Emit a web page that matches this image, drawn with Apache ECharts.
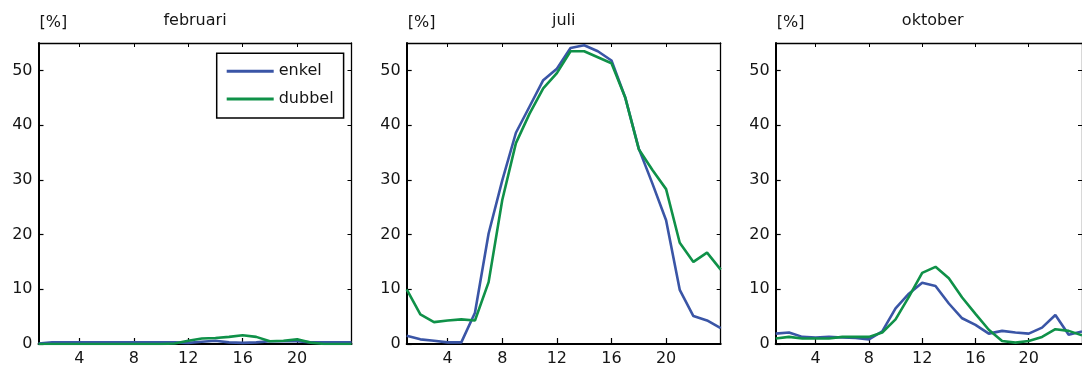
<!DOCTYPE html>
<html>
<head>
<meta charset="utf-8">
<script src="https://cdn.jsdelivr.net/npm/echarts@6/dist/echarts.min.js"></script>
<style>
  html, body { margin: 0; padding: 0; background: #fff; }
  #chart { width: 1082px; height: 367px; }
</style>
</head>
<body>
<div id="chart"></div>
<script>
// Hour of day (x) and share in percent (y) for three months
const hours = [1, 2, 3, 4, 5, 6, 7, 8, 9, 10, 11, 12, 13, 14, 15, 16, 17, 18, 19, 20, 21, 22, 23, 24];
const hourTicks = [4, 8, 12, 16, 20];
const percentTicks = [0, 10, 20, 30, 40, 50];
const months = ['februari', 'juli', 'oktober'];
const seriesNames = ['enkel', 'dubbel'];

const enkelFebruari = [0.1, 0.3, 0.3, 0.3, 0.3, 0.3, 0.3, 0.3, 0.3, 0.3, 0.3, 0.2, 0.4, 0.6, 0.3, 0.2, 0.3, 0.5, 0.5, 0.5, 0.3, 0.3, 0.3, 0.3];
const dubbelFebruari = [0, 0, 0, 0, 0, 0, 0, 0, 0, 0, 0.1, 0.6, 1.0, 1.1, 1.3, 1.6, 1.3, 0.5, 0.6, 0.85, 0.25, 0, 0, 0];

const enkelJuli = [1.5, 0.85, 0.6, 0.3, 0.3, 5.7, 20.2, 29.9, 38.6, 43.4, 48.2, 50.3, 54.1, 54.6, 53.5, 51.8, 45.1, 35.7, 29.3, 22.6, 9.9, 5.1, 4.3, 2.9];
const dubbelJuli = [10.0, 5.4, 4.0, 4.3, 4.5, 4.3, 11.3, 26.3, 36.7, 42.1, 46.7, 49.5, 53.5, 53.5, 52.4, 51.3, 45.1, 35.6, 31.8, 28.3, 18.5, 15.0, 16.7, 13.6];

const enkelOktober = [1.9, 2.1, 1.3, 1.2, 1.3, 1.2, 1.1, 0.85, 2.3, 6.5, 9.2, 11.2, 10.6, 7.4, 4.7, 3.5, 1.9, 2.4, 2.1, 1.9, 3.0, 5.3, 1.7, 2.3];
const dubbelOktober = [1.0, 1.3, 1.0, 1.0, 1.0, 1.3, 1.3, 1.3, 2.1, 4.5, 8.6, 13.0, 14.1, 12.0, 8.5, 5.5, 2.6, 0.55, 0.25, 0.55, 1.3, 2.7, 2.4, 1.6];

const enkelByMonth = [enkelFebruari, enkelJuli, enkelOktober];
const dubbelByMonth = [dubbelFebruari, dubbelJuli, dubbelOktober];

const colors = { enkel: '#3a55a6', dubbel: '#0f9148' };
const font = 'DejaVu Sans';
const ink = '#151515';

// Panel frames
const panels = [
  { left: 38.5, width: 313 },
  { left: 406.7, width: 314 },
  { left: 775.7, width: 314 }
];
const gridTop = 43;
const gridHeight = 301;

const grid = panels.map(p => ({ left: p.left, top: gridTop, width: p.width, height: gridHeight, containLabel: false }));

const xAxis = [];
const yAxis = [];
panels.forEach((p, i) => {
  // bottom axis with labels
  xAxis.push({
    type: 'value', gridIndex: i, min: 1, max: 24, position: 'bottom',
    axisLine: { onZero: false, lineStyle: { color: '#000', width: 2 } },
    axisTick: { inside: true, length: 6, customValues: hourTicks, lineStyle: { color: '#000', width: 1.2 } },
    axisLabel: { customValues: hourTicks, color: ink, fontFamily: font, fontSize: 16, margin: 7 },
    splitLine: { show: false }
  });
  // top frame edge
  xAxis.push({
    type: 'value', gridIndex: i, min: 1, max: 24, position: 'top',
    axisLine: { onZero: false, lineStyle: { color: '#000', width: 1.3 } },
    axisTick: { inside: true, length: 4, customValues: hourTicks, lineStyle: { color: '#000', width: 1 } },
    axisLabel: { show: false },
    splitLine: { show: false }
  });
  // left axis with labels
  yAxis.push({
    type: 'value', gridIndex: i, min: 0, max: 55, position: 'left',
    axisLine: { show: true, onZero: false, lineStyle: { color: '#000', width: 2 } },
    axisTick: { show: true, inside: true, length: 5, customValues: percentTicks, lineStyle: { color: '#000', width: 1.2 } },
    axisLabel: { customValues: percentTicks, color: ink, fontFamily: font, fontSize: 16, margin: 6 },
    splitLine: { show: false }
  });
  // right frame edge
  yAxis.push({
    type: 'value', gridIndex: i, min: 0, max: 55, position: 'right',
    axisLine: { show: true, onZero: false, lineStyle: { color: '#000', width: 1.3 } },
    axisTick: { show: true, inside: true, length: 4, customValues: percentTicks, lineStyle: { color: '#000', width: 1 } },
    axisLabel: { show: false },
    splitLine: { show: false }
  });
});

const series = [];
months.forEach((m, i) => {
  [enkelByMonth[i], dubbelByMonth[i]].forEach((vals, k) => {
    const name = seriesNames[k];
    series.push({
      type: 'line', name: name,
      xAxisIndex: i * 2, yAxisIndex: i * 2,
      data: hours.map((h, j) => [h, vals[j]]),
      symbol: 'none', smooth: false, clip: true,
      lineStyle: { color: colors[name], width: 2.6 },
      itemStyle: { color: colors[name] },
      emphasis: { disabled: true },
      z: 3 + k
    });
  });
});

// Panel titles and unit labels
const graphic = [];
panels.forEach((p, i) => {
  graphic.push({
    type: 'text', x: p.left + p.width / 2, y: 21,
    style: { text: months[i], font: '16px "' + font + '"', fill: ink, textAlign: 'center', textVerticalAlign: 'middle' }
  });
  graphic.push({
    type: 'text', x: p.left + 1, y: 23,
    style: { text: '[%]', font: '16px "' + font + '"', fill: ink, textAlign: 'left', textVerticalAlign: 'middle' }
  });
});

const chart = echarts.init(document.getElementById('chart'), null, { renderer: 'canvas' });
chart.setOption({
  animation: false,
  backgroundColor: '#fff',
  grid, xAxis, yAxis, series, graphic,
  legend: {
    data: seriesNames,
    orient: 'vertical',
    left: 216.7, top: 53.3,
    padding: [9, 10, 10, 10],
    itemGap: 9.6,
    itemWidth: 47, itemHeight: 3,
    icon: 'rect',
    backgroundColor: '#fff',
    borderColor: '#000', borderWidth: 1.5, borderRadius: 0,
    textStyle: { color: ink, fontFamily: font, fontSize: 16, lineHeight: 18 },
    selectedMode: false,
    z: 10
  }
});
</script>
</body>
</html>
